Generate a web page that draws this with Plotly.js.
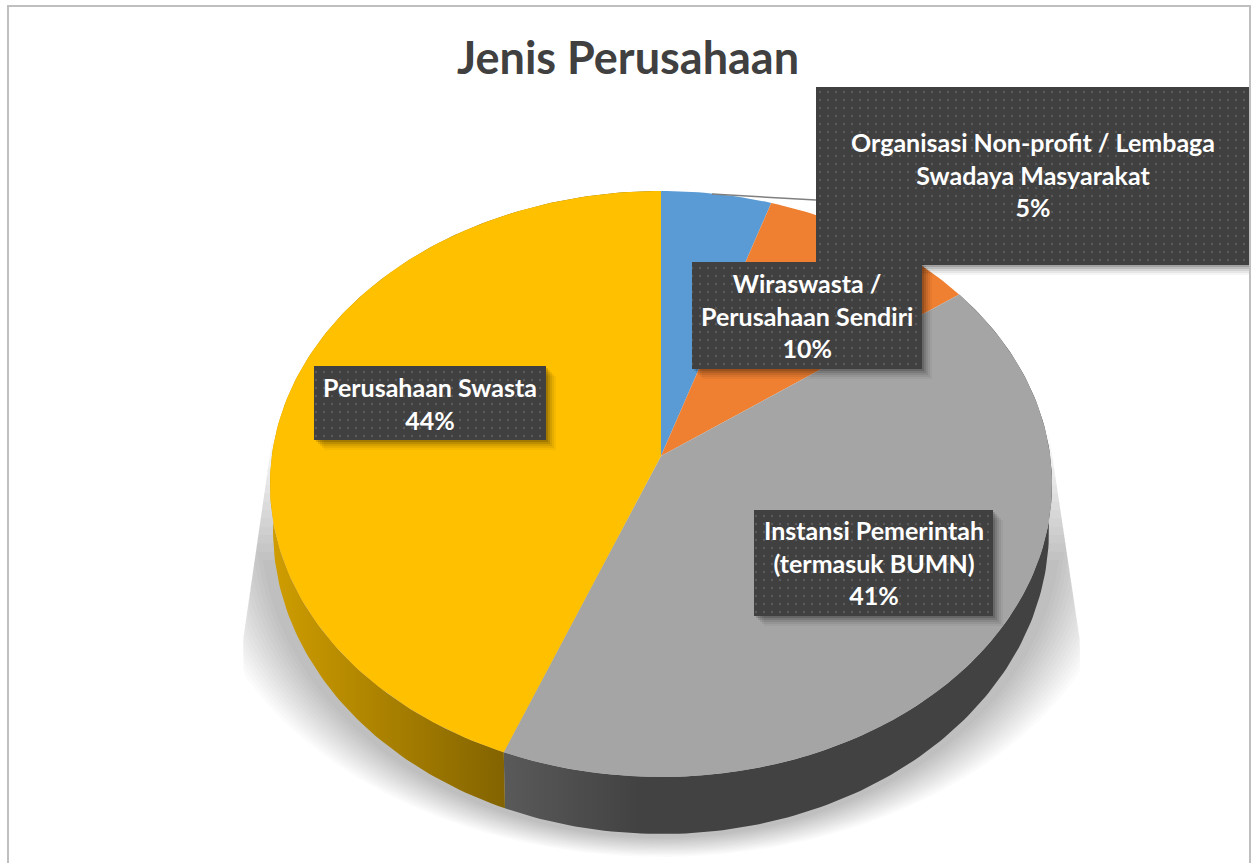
<!DOCTYPE html>
<html>
<head>
    <title>Jenis Perusahaan</title>
    <script src="https://cdn.plot.ly/plotly-3.0.1.min.js"></script>
    <style>
        body { margin: 0; background-color: white; overflow: hidden; }
    </style>
</head>
<body>
    <div id="chart" style="width:1256px;height:863px"></div>

    <script>
        // Data
        const categories = [
            'Organisasi Non-profit / Lembaga<br>Swadaya Masyarakat',
            'Wiraswasta /<br>Perusahaan Sendiri',
            'Instansi Pemerintah<br>(termasuk BUMN)',
            'Perusahaan Swasta'
        ];
        const percents = [5, 10, 41, 44];
        const sliceColors = ['#5b9bd5', '#ef7f31', '#a5a5a5', '#ffc000'];

        // Label boxes [left, top, right, bottom], same order as categories
        const labelBoxes = [
            [816, 87, 1249, 265],
            [692, 262, 922, 369],
            [754, 510, 993, 616],
            [314, 366, 546, 440]
        ];
        const labelShifts = [2, 0, 1, 0];

        // Pie drawn tilted: the axes run in page pixels, top face and base are ellipses
        const top_ = {cx: 661, cy: 484, rx: 391, ry: 293};
        const base = {cx: 661, cy: 530, rx: 388, ry: 304};
        const apex = 28 / 293;   // the pie centre sits above the ellipse centre (perspective)

        function rimPoint(e, turn) {
            const a = turn * 2 * Math.PI;
            const d = 1 + apex * Math.cos(a);
            const u = Math.sin(a) * Math.sqrt(1 - apex * apex) / d;
            const v = (Math.cos(a) + apex) / d;
            return [e.cx + e.rx * u, e.cy - e.ry * v];
        }

        function rimArc(e, from, to) {
            const n = Math.max(2, Math.ceil(Math.abs(to - from) * 360));
            const pts = [];
            for (let i = 0; i <= n; i++) pts.push(rimPoint(e, from + (to - from) * i / n));
            return pts;
        }

        function polygon(pts, extra) {
            return Object.assign({
                x: pts.map(p => p[0]).concat([pts[0][0]]),
                y: pts.map(p => p[1]).concat([pts[0][1]]),
                type: 'scatter',
                mode: 'lines',
                line: {width: 0},
                fill: 'toself',
                hoverinfo: 'skip',
                showlegend: false
            }, extra);
        }

        const traces = [];

        // Soft shadow under the pie: stacked see-through layers, cut by a trapezoid
        const shadowLayers = 16;
        for (let k = 0; k < shadowLayers; k++) {
            const f = k / (shadowLayers - 1);
            const rx = 400 + 65 * f, ry = 308 + 19 * f, topY = 560 - 125 * f;
            const xl = y => Math.max(243, 272 - (y - 440) * 29 / 200);
            const xr = y => Math.min(1080, 1050 + (y - 440) * 30 / 200);
            const pts = [[xl(topY), topY], [xr(topY), topY]];
            for (let i = 0; i <= 120; i++) {
                const t = Math.PI * i / 120;
                const y = Math.max(topY, 530 + ry * Math.sin(t));
                let x = 661 + rx * Math.cos(t);
                x = Math.min(xr(y), Math.max(xl(y), x));
                pts.push([x, y]);
            }
            traces.push(polygon(pts, {fillcolor: 'rgba(0,0,0,0.0145)'}));
        }

        // Slice boundaries as fractions of a turn, clockwise from 12 o'clock
        const total = percents.reduce((a, b) => a + b, 0);
        const bounds = [0];
        percents.forEach((p, i) => bounds.push(bounds[i] + p / total));

        // Side wall
        const sideGradients = [
            null,
            null,
            {type: 'horizontal', start: 502, stop: 640, colorscale: [[0, '#5a5a5a'], [1, '#424242']]},
            {type: 'horizontal', start: 273, stop: 506, colorscale: [[0, '#cf9d00'], [1, '#826300']]}
        ];
        [2, 3].forEach(i => {
            const pts = rimArc(top_, bounds[i], bounds[i + 1])
                .concat(rimArc(base, bounds[i + 1], bounds[i]));
            traces.push(polygon(pts, {fillgradient: sideGradients[i]}));
        });

        // Top face
        percents.forEach((p, i) => {
            const pts = [[top_.cx, 456]].concat(rimArc(top_, bounds[i], bounds[i + 1]));
            traces.push(polygon(pts, {fillcolor: sliceColors[i]}));
        });

        // Leader line from the blue slice to its label
        traces.push({
            x: [712, 816], y: [194, 200],
            type: 'scatter', mode: 'lines',
            line: {color: '#7f7f7f', width: 1.5},
            hoverinfo: 'skip', showlegend: false
        });

        // Label boxes with a blurred drop shadow and dotted fill
        labelBoxes.forEach(b => {
            [[10, 0.04], [8, 0.06], [6, 0.08], [4, 0.11], [2, 0.14]].forEach(s => {
                const o = s[0];
                const right = Math.min(1249, b[2] + o);
                traces.push(polygon(
                    [[b[0] + o, b[1] + o], [right, b[1] + o], [right, b[3] + o], [b[0] + o, b[3] + o]],
                    {fillcolor: 'rgba(0,0,0,' + s[1] + ')'}
                ));
            });
            traces.push(polygon(
                [[b[0], b[1]], [b[2], b[1]], [b[2], b[3]], [b[0], b[3]]],
                {
                    fillcolor: '#404040',
                    fillpattern: {shape: '.', bgcolor: '#404040', fgcolor: '#5a5a5a', size: 8, solidity: 0.07}
                }
            ));
        });

        const annotations = categories.map((c, i) => ({
            x: (labelBoxes[i][0] + labelBoxes[i][2]) / 2,
            y: (labelBoxes[i][1] + labelBoxes[i][3]) / 2,
            yshift: labelShifts[i],
            xref: 'x', yref: 'y',
            text: c + '<br>' + percents[i] + '%',
            showarrow: false,
            align: 'center',
            font: {family: 'Lato, sans-serif', size: 25, color: 'white', weight: 700}
        }));

        Plotly.newPlot('chart', traces, {
            width: 1256,
            height: 863,
            margin: {l: 0, r: 0, t: 0, b: 0},
            paper_bgcolor: 'white',
            plot_bgcolor: 'white',
            title: {
                text: 'Jenis Perusahaan',
                x: 628 / 1256,
                xanchor: 'center',
                y: 1 - 58 / 863,
                yanchor: 'middle',
                font: {family: 'Lato, sans-serif', size: 45, color: '#404040', weight: 700}
            },
            xaxis: {range: [0, 1256], visible: false, fixedrange: true},
            yaxis: {range: [863, 0], visible: false, fixedrange: true},
            annotations: annotations,
            shapes: [{
                type: 'rect', xref: 'x', yref: 'y',
                x0: 8, y0: 6, x1: 1250, y1: 880,
                line: {color: '#bfbfbf', width: 2},
                layer: 'above'
            }]
        }, {displayModeBar: false, staticPlot: true});
    </script>
</body>
</html>
